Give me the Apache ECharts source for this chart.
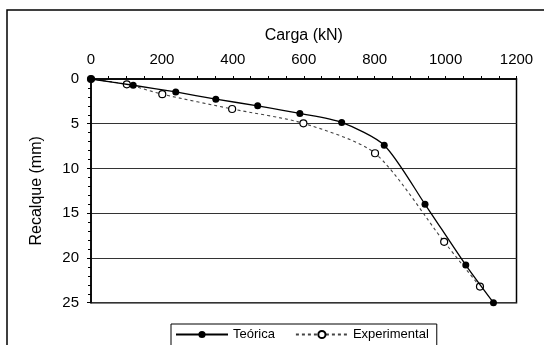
<!DOCTYPE html>
<html>
<head>
<meta charset="utf-8">
<script src="https://cdn.jsdelivr.net/npm/echarts@6/dist/echarts.min.js"></script>
<style>
  html, body { margin: 0; padding: 0; background: #fff; }
  #chart { width: 544px; height: 345px; }
</style>
</head>
<body>
<div id="chart"></div>
<script>
// Load (kN) vs settlement (mm): theoretical curve and load-test points
const cargaTeorica = [0, 119, 239, 352, 470, 589, 707, 827, 942, 1057, 1135];
const recalqueTeorico = [0, 0.7, 1.45, 2.25, 3.0, 3.85, 4.85, 7.4, 14.0, 20.8, 25.0];

const cargaExperimental = [0, 101, 201, 398, 599, 801, 996, 1097];
const recalqueExperimental = [0, 0.6, 1.7, 3.35, 4.95, 8.3, 18.2, 23.2];

const serieNomes = ['Teórica', 'Experimental'];
const xTitulo = 'Carga (kN)';
const yTitulo = 'Recalque (mm)';

const pares = (xs, ys) => xs.map((x, i) => [x, ys[i]]);

const fonte = 'Liberation Sans, Arial, sans-serif';
const chart = echarts.init(document.getElementById('chart'), null, { renderer: 'canvas' });

chart.setOption({
  backgroundColor: '#fff',
  animation: false,
  textStyle: { fontFamily: fonte, color: '#000' },
  graphic: [{
    type: 'rect',
    shape: { x: 7, y: 10, width: 600, height: 400 },
    style: { fill: 'none', stroke: '#000', lineWidth: 1.5 },
    silent: true
  }],
  grid: {
    left: 91, top: 79, right: 27.5, bottom: 42.3,
    show: true, borderColor: '#000', borderWidth: 1.5, backgroundColor: 'transparent'
  },
  legend: {
    left: 171, top: 324,
    orient: 'horizontal',
    padding: [4, 8, 8, 4],
    itemGap: 20,
    itemWidth: 52, itemHeight: 9,
    borderColor: '#000', borderWidth: 1,
    backgroundColor: '#fff',
    textStyle: { fontFamily: fonte, fontSize: 13, color: '#000' },
    data: serieNomes
  },
  xAxis: {
    type: 'value',
    position: 'top',
    min: 0, max: 1200, interval: 200,
    name: xTitulo,
    nameLocation: 'middle',
    nameGap: 35,
    nameTextStyle: { fontFamily: fonte, fontSize: 16, color: '#000' },
    axisLine: { show: true, onZero: false, lineStyle: { color: '#000', width: 1.5 } },
    axisTick: { show: true, inside: false, length: 3, lineStyle: { color: '#000', width: 1 } },
    minorTick: { show: true, splitNumber: 4, length: 3, lineStyle: { color: '#000', width: 1 } },
    axisLabel: { margin: 12, fontFamily: fonte, fontSize: 15, color: '#000', formatter: v => String(v) },
    splitLine: { show: false }
  },
  yAxis: {
    type: 'value',
    inverse: true,
    min: 0, max: 25, interval: 5,
    name: yTitulo,
    nameLocation: 'middle',
    nameGap: 46,
    nameRotate: 90,
    nameTextStyle: { fontFamily: fonte, fontSize: 16, color: '#000' },
    axisLine: { show: true, onZero: false, lineStyle: { color: '#000', width: 1.5 } },
    axisTick: { show: true, inside: false, length: 4, lineStyle: { color: '#000', width: 1 } },
    minorTick: { show: true, splitNumber: 5, length: 3, lineStyle: { color: '#000', width: 1 } },
    axisLabel: { margin: 12, fontFamily: fonte, fontSize: 15, color: '#000', formatter: v => String(v) },
    splitLine: { show: true, lineStyle: { color: '#333', width: 1 } }
  },
  series: [
    {
      name: serieNomes[0],
      type: 'line',
      data: pares(cargaTeorica, recalqueTeorico),
      smooth: 0.25,
      clip: false,
      symbol: 'circle',
      symbolSize: 7,
      itemStyle: { color: '#000' },
      lineStyle: { color: '#000', width: 1.3 },
      z: 3
    },
    {
      name: serieNomes[1],
      type: 'line',
      data: pares(cargaExperimental, recalqueExperimental),
      smooth: 0.25,
      clip: false,
      symbol: 'circle',
      symbolSize: 7,
      itemStyle: { color: '#fff', borderColor: '#000', borderWidth: 1.2 },
      lineStyle: { color: '#444', width: 1.1, type: [3, 3] },
      z: 2
    }
  ]
});
</script>
</body>
</html>
